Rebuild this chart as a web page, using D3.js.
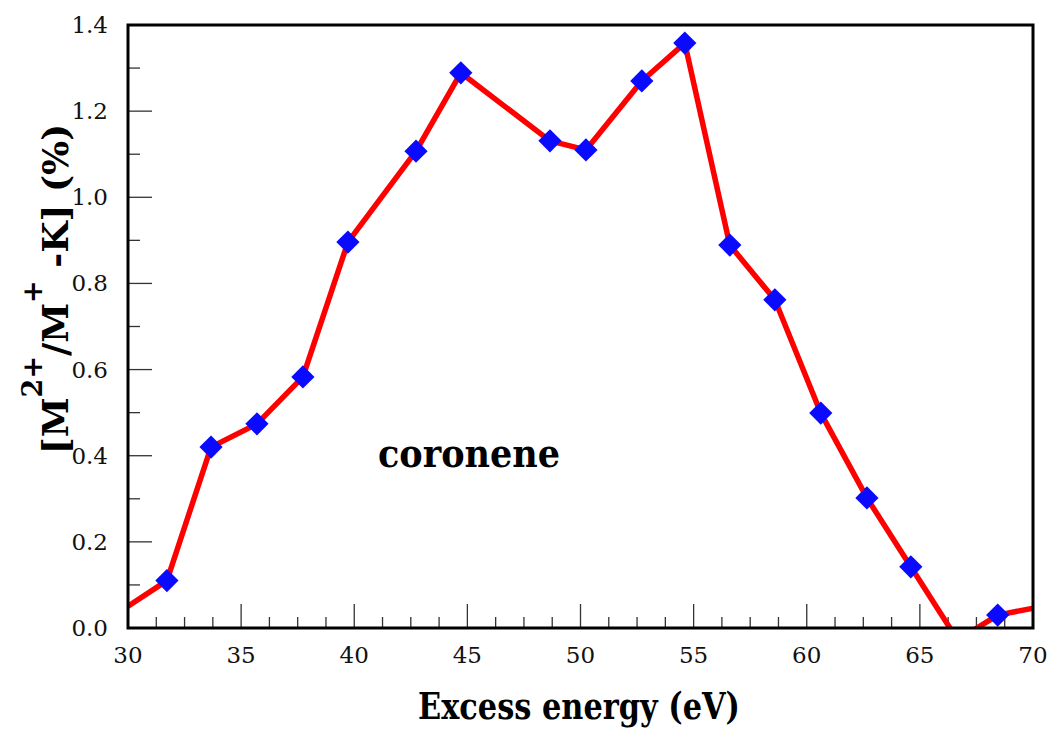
<!DOCTYPE html>
<html>
<head>
<meta charset="utf-8">
<script src="https://cdn.jsdelivr.net/npm/d3@7"></script>
<style>
  body { margin: 0; background: #fff; }
</style>
</head>
<body>
<div id="chart"></div>
<script>
/********************************************************/
// Data (first and last points sit outside the axes and get clipped)
const energy = [29.4, 31.72, 33.67, 35.7, 37.73, 39.72, 42.73, 44.71, 48.65, 50.24, 52.71, 54.61, 56.6, 58.59, 60.62, 62.66, 64.6, 66.67, 68.44, 70.6];
const ratio = [0.03, 0.11, 0.42, 0.474, 0.583, 0.896, 1.107, 1.289, 1.131, 1.11, 1.27, 1.358, 0.889, 0.762, 0.499, 0.302, 0.142, -0.028, 0.03, 0.052];
const xTicks = [30, 35, 40, 45, 50, 55, 60, 65, 70];
const yTicks = [0, 0.2, 0.4, 0.6, 0.8, 1.0, 1.2, 1.4];
/********************************************************/
const svgWidth = 1050;
const svgHeight = 731;
const margin = { top: 25, right: 17, bottom: 103, left: 128 };
const width = svgWidth - margin.left - margin.right;
const height = svgHeight - margin.top - margin.bottom;
const serif = "'DejaVu Serif', serif";

const data = energy.map((e, i) => ({ x: e, y: ratio[i] }));

const svg = d3.select("#chart").append("svg")
  .attr("width", svgWidth).attr("height", svgHeight)
  .attr("font-family", serif);
const g = svg.append("g").attr("transform", `translate(${margin.left}, ${margin.top})`);

const x = d3.scaleLinear().domain([30, 70]).range([0, width]);
const y = d3.scaleLinear().domain([0, 1.4]).range([height, 0]);

// minor ticks
const xMinor = d3.range(30, 70.01, 1.25).filter((v) => !xTicks.includes(v));
const yMinor = d3.range(0.1, 1.4, 0.2);

g.selectAll(".xminor").data(xMinor).enter().append("line")
  .attr("x1", (d) => x(d)).attr("x2", (d) => x(d))
  .attr("y1", height).attr("y2", height - 11)
  .attr("stroke", "#333").attr("stroke-width", 1.3);
g.selectAll(".xmajor").data(xTicks).enter().append("line")
  .attr("x1", (d) => x(d)).attr("x2", (d) => x(d))
  .attr("y1", height).attr("y2", height - 24)
  .attr("stroke", "#333").attr("stroke-width", 1.3);
g.selectAll(".yminor").data(yMinor).enter().append("line")
  .attr("x1", 0).attr("x2", 12)
  .attr("y1", (d) => y(d)).attr("y2", (d) => y(d))
  .attr("stroke", "#333").attr("stroke-width", 1.3);
g.selectAll(".ymajor").data(yTicks).enter().append("line")
  .attr("x1", 0).attr("x2", 24)
  .attr("y1", (d) => y(d)).attr("y2", (d) => y(d))
  .attr("stroke", "#333").attr("stroke-width", 1.3);

// tick labels
g.selectAll(".xlab").data(xTicks).enter().append("text")
  .attr("x", (d) => x(d)).attr("y", height + 35)
  .attr("text-anchor", "middle").attr("font-size", "23px").attr("fill", "#111")
  .text((d) => d);
g.selectAll(".ylab").data(yTicks).enter().append("text")
  .attr("x", -20).attr("y", (d) => y(d) + 8)
  .attr("text-anchor", "end").attr("font-size", "23px").attr("fill", "#111")
  .text((d) => d.toFixed(1));

// clipped data
g.append("clipPath").attr("id", "plotclip")
  .append("rect").attr("width", width).attr("height", height);
const plot = g.append("g").attr("clip-path", "url(#plotclip)");

const line = d3.line().x((d) => x(d.x)).y((d) => y(d.y));
plot.append("path").datum(data)
  .attr("d", line)
  .attr("fill", "none").attr("stroke", "#ff0000").attr("stroke-width", 5.5)
  .attr("stroke-linejoin", "round");

const diamond = d3.symbol().type(d3.symbolSquare).size(270);
plot.selectAll(".pt").data(data).enter().append("path")
  .attr("d", diamond)
  .attr("transform", (d) => `translate(${x(d.x)}, ${y(d.y)}) rotate(45)`)
  .attr("fill", "#0a0aff");

// frame
g.append("rect").attr("width", width).attr("height", height)
  .attr("fill", "none").attr("stroke", "#000").attr("stroke-width", 3);

// annotation
g.append("text")
  .attr("x", x(41.05)).attr("y", y(0.373))
  .attr("font-size", "40px").attr("font-weight", "bold")
  .attr("textLength", 182).attr("lengthAdjust", "spacingAndGlyphs")
  .text("coronene");

// axis titles
svg.append("text")
  .attr("x", 418).attr("y", 719)
  .attr("font-size", "37px").attr("font-weight", "bold")
  .attr("textLength", 322).attr("lengthAdjust", "spacingAndGlyphs")
  .text("Excess energy (eV)");

const yTitle = svg.append("text")
  .attr("transform", `translate(68, 289) rotate(-90)`)
  .attr("text-anchor", "middle")
  .attr("font-size", "36px").attr("font-weight", "bold");
yTitle.append("tspan").text("[M");
yTitle.append("tspan").attr("font-size", "27px").attr("dy", -26).text("2+");
yTitle.append("tspan").attr("dy", 26).text("/M");
yTitle.append("tspan").attr("font-size", "27px").attr("dy", -26).text("+");
yTitle.append("tspan").attr("dy", 26).text(" -K] (%)");
</script>
</body>
</html>
